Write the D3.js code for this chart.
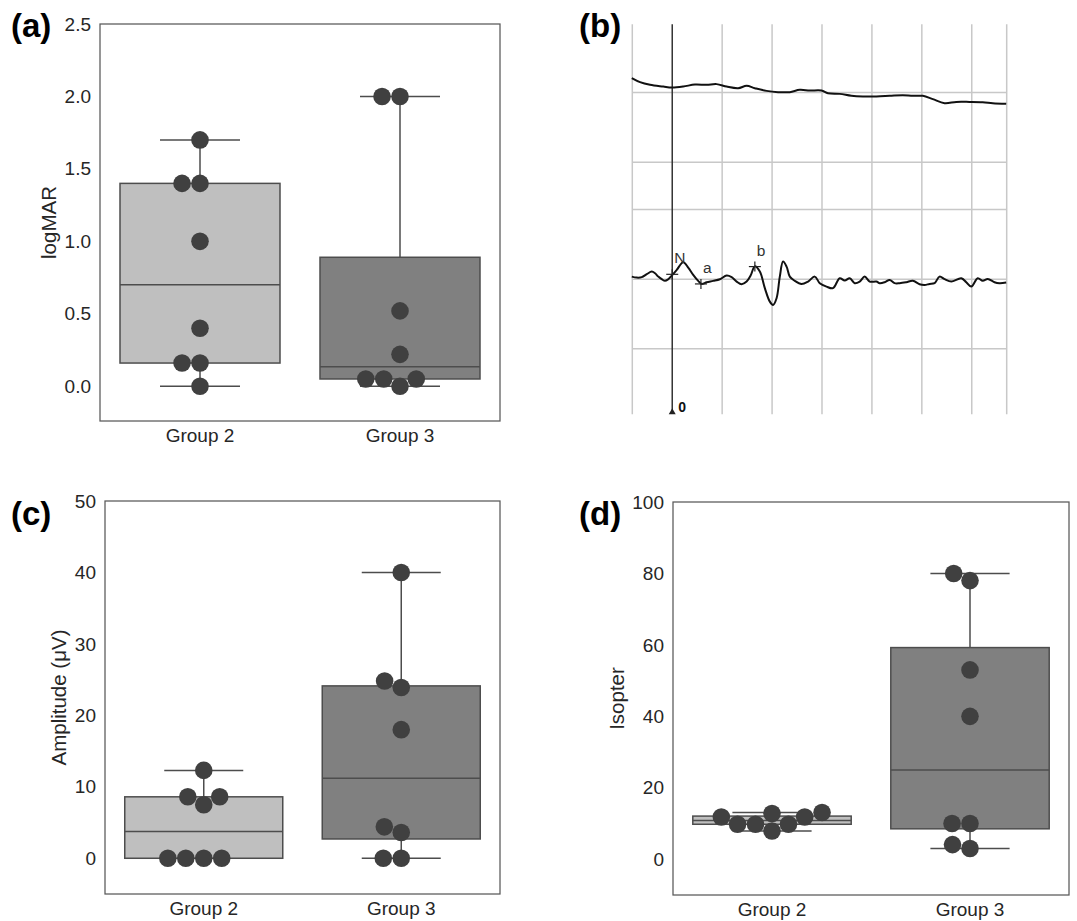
<!DOCTYPE html>
<html>
<head>
<meta charset="utf-8">
<title>Group 2 / Group 3</title>
<script src="https://cdn.jsdelivr.net/npm/d3@7"></script>
<style>
body { margin: 0; background: #fff; }
svg text { font-family: "Liberation Sans", Arial, sans-serif; }
</style>
</head>
<body>
<svg id="fig" width="1077" height="921"></svg>
<script>
// categories
var groups = ["Group 2", "Group 3"];

// (a) visual acuity
var logmarG2 = [1.7, 1.4, 1.4, 1.0, 0.4, 0.16, 0.16, 0.0];
var logmarG3 = [2.0, 2.0, 0.52, 0.22, 0.05, 0.05, 0.05, 0.0];
var logmarTicks = [0, 0.5, 1.0, 1.5, 2.0, 2.5];

// (c) ERG amplitude
var amplitudeG2 = [12.3, 8.6, 8.6, 7.5, 0, 0, 0, 0];
var amplitudeG3 = [40, 24.8, 23.9, 18, 4.4, 3.6, 0, 0];
var amplitudeTicks = [0, 10, 20, 30, 40, 50];

// (d) isopter
var isopterG2 = [13.1, 12.8, 11.85, 11.85, 9.8, 9.8, 9.8, 7.9];
var isopterG3 = [80, 78, 53, 40, 10, 10, 4.1, 3];
var isopterTicks = [0, 20, 40, 60, 80, 100];

// (b) ERG recording: [time ms, µV from channel zero line]
var ergTop = [[-16.2, 20.7], [-12.9, 14.9], [-8.9, 11.1], [-3.6, 8.6], [-0.2, 7.2], [4.4, 8.6],
  [9.1, 11.5], [13.8, 11.1], [17.8, 12.1], [21.8, 8.6], [26.4, 6.3], [29.8, 9.6], [33.1, 6.3],
  [37.8, 2.4], [42.4, 0.6], [47.1, 0.6], [51.1, 3.9], [55.1, 2.9], [59.8, 2.9], [62.4, -0.9],
  [67.1, -1.9], [71.8, -4.7], [76.4, -5.7], [81.8, -5.7], [87.1, -4.7], [92.4, -3.7], [96.4, -4.7],
  [100.4, -4.7], [104.4, -9.5], [109.1, -15.2], [113.8, -13.4], [119.1, -13.4], [124.4, -13.8],
  [128.4, -15.2], [133.8, -16.2]];
var ergBottom = [[-16.2, 3.7], [-14.2, 2.3], [-12.2, 2.9], [-10.2, 7.2], [-8.2, 10.9], [-6.9, 8.6],
  [-5.6, 3.7], [-4.2, 0], [-2.9, -2.4], [-1.6, 0], [-0.2, 5.2], [1.8, 13.4], [4.4, 24.4], [6.4, 16.7],
  [8.4, 6.2], [10.4, -2.4], [11.8, -6.8], [13.8, -4.3], [16.4, -2.4], [19.1, 0], [21.8, 5.2],
  [23.8, 2.9], [25.8, -3.4], [27.8, -7.2], [29.8, -3.4], [31.4, 5.2], [33.1, 18.4], [35.1, 10.9],
  [37.1, -12.9], [39.1, -32.2], [40.4, -36.9], [41.8, -27.3], [43.1, 3.7], [44.4, 25.3], [45.8, 18.1],
  [47.1, 3.7], [49.1, -2.4], [51.8, -6.8], [54.4, -3.4], [57.1, 3.7], [59.1, -5.7], [61.8, -10.6],
  [64.4, -12.9], [67.1, 1.4], [69.1, -2.0], [71.1, 1.4], [73.1, -5.7], [75.1, -3.4], [77.1, 3.7],
  [79.1, -3.4], [81.8, -3.4], [83.1, -5.7], [85.1, -4.3], [87.1, -1.0], [89.1, -5.7], [91.1, -5.7],
  [93.8, -4.3], [96.4, -2.4], [99.1, -7.2], [101.1, -8.2], [103.1, -6.8], [105.1, -5.7], [107.1, 3.7],
  [109.1, 0], [111.8, -3.4], [115.8, 1.4], [117.8, -4.3], [119.8, -10.6], [122.4, 1.4], [124.4, -2.4],
  [126.4, 0.4], [129.1, -4.3], [131.1, -5.7], [133.8, -4.9]];
var ergMarkers = [{label: "N", t: 0, v: 7}, {label: "a", t: 11.5, v: -6.8}, {label: "b", t: 33.1, v: 18.1}];
var channelZero = [268, 0];          // top and bottom channel zero lines
var ergGridTimes = [20, 40, 60, 80, 100, 120];
var ergGridAmps = [-100, 0, 100, 168, 268];

var boxFill = ["#bfbfbf", "#808080"];
var lineGray = "#4d4d4d";
var dotColor = "#404040";

var svg = d3.select("#fig");

function boxStats(values) {
	var s = values.slice().sort(d3.ascending);
	var q1 = d3.quantileSorted(s, 0.25), q3 = d3.quantileSorted(s, 0.75);
	var iqr = q3 - q1;
	return {
		q1: q1, q3: q3,
		med: d3.quantileSorted(s, 0.5),
		lo: d3.min(s.filter(function(v) { return v >= q1 - 1.5 * iqr; })),
		hi: d3.max(s.filter(function(v) { return v <= q3 + 1.5 * iqr; }))
	};
}

// seaborn-like beeswarm, pixel space (y measured upwards)
function swarm(pys, cx, r) {
	var pts = pys.map(function(py) { return {x: cx, y: -py}; })
		.sort(function(a, b) { return a.y - b.y; });
	var placed = [pts[0]];
	for (var i = 1; i < pts.length; i++) {
		var p = pts[i];
		var nb = [];
		for (var j = placed.length - 1; j >= 0; j--) {
			if (p.y - placed[j].y < 2 * r) nb.unshift(placed[j]);
			else break;
		}
		var cands = [p.x];
		var leftFirst = true;
		nb.forEach(function(q) {
			var dy = p.y - q.y;
			var dx = Math.sqrt(Math.max(4 * r * r - dy * dy, 0)) * 1.05;
			if (leftFirst) cands.push(q.x - dx, q.x + dx);
			else cands.push(q.x + dx, q.x - dx);
			leftFirst = !leftFirst;
		});
		cands = cands.map(function(x, k) { return {x: x, k: k}; })
			.sort(function(a, b) {
				var d = Math.abs(a.x - cx) - Math.abs(b.x - cx);
				return Math.abs(d) > 1e-6 ? d : a.k - b.k;
			});
		var nx = cands[0].x;
		for (var c = 0; c < cands.length; c++) {
			var ok = nb.every(function(q) {
				return Math.pow(q.x - cands[c].x, 2) + Math.pow(q.y - p.y, 2) >= 4 * r * r - 1e-6;
			});
			if (ok) { nx = cands[c].x; break; }
		}
		placed.push({x: nx, y: p.y});
	}
	return placed.map(function(d) { return {x: d.x, y: -d.y}; });
}

function drawBoxPanel(p) {
	var x = d3.scaleBand().domain(groups).range([p.left, p.right]);
	var y = d3.scaleLinear().domain(p.domain).range([p.bottom, p.top]);
	var g = svg.append("g");
	var bw = x.bandwidth() * 0.8;

	p.series.forEach(function(values, i) {
		var cx = x(groups[i]) + x.bandwidth() / 2;
		var st = boxStats(values);
		var lines = [
			[cx, y(st.q3), cx, y(st.hi)],
			[cx, y(st.q1), cx, y(st.lo)],
			[cx - bw / 4, y(st.hi), cx + bw / 4, y(st.hi)],
			[cx - bw / 4, y(st.lo), cx + bw / 4, y(st.lo)]
		];
		lines.forEach(function(l) {
			g.append("line")
				.attr("x1", l[0]).attr("y1", l[1]).attr("x2", l[2]).attr("y2", l[3])
				.attr("stroke", lineGray).attr("stroke-width", 1.5);
		});
		g.append("rect")
			.attr("x", cx - bw / 2)
			.attr("y", y(st.q3))
			.attr("width", bw)
			.attr("height", Math.max(y(st.q1) - y(st.q3), 0))
			.attr("fill", boxFill[i])
			.attr("stroke", lineGray)
			.attr("stroke-width", 1.5);
		g.append("line")
			.attr("x1", cx - bw / 2).attr("x2", cx + bw / 2)
			.attr("y1", y(st.med)).attr("y2", y(st.med))
			.attr("stroke", lineGray).attr("stroke-width", 1.5);
	});

	p.series.forEach(function(values, i) {
		var cx = x(groups[i]) + x.bandwidth() / 2;
		var pos = swarm(values.map(function(v) { return y(v); }), cx, 8.55);
		g.selectAll(null).data(pos).enter()
			.append("circle")
			.attr("cx", function(d) { return d.x; })
			.attr("cy", function(d) { return d.y; })
			.attr("r", 8.8)
			.attr("fill", dotColor);
	});

	g.append("rect")
		.attr("x", p.left).attr("y", p.top)
		.attr("width", p.right - p.left).attr("height", p.bottom - p.top)
		.attr("fill", "none").attr("stroke", "#595959").attr("stroke-width", 1.25);

	var yAxis = g.append("g")
		.attr("transform", "translate(" + p.left + ",0)")
		.call(d3.axisLeft(y).tickValues(p.ticks).tickFormat(d3.format(p.fmt)).tickSize(0).tickPadding(9));
	yAxis.select(".domain").remove();
	yAxis.selectAll("text").attr("font-size", 19).attr("fill", "#262626")
		.style("font-family", '"Liberation Sans", Arial, sans-serif');

	var xAxis = g.append("g")
		.attr("transform", "translate(0," + p.bottom + ")")
		.call(d3.axisBottom(x).tickSize(0).tickPadding(8));
	xAxis.select(".domain").remove();
	xAxis.selectAll("text").attr("font-size", 19).attr("fill", "#262626")
		.style("font-family", '"Liberation Sans", Arial, sans-serif');

	var bb = yAxis.node().getBBox();
	g.append("text")
		.attr("transform", "translate(" + (p.left + bb.x - 8.5) + "," + ((p.top + p.bottom) / 2) + ") rotate(-90)")
		.attr("text-anchor", "middle")
		.attr("font-size", 20.5)
		.attr("fill", "#262626")
		.text(p.ylabel);

	svg.append("text")
		.attr("x", p.tagX).attr("y", p.tagY)
		.attr("font-size", 33).attr("font-weight", "bold")
		.attr("fill", "#000")
		.text(p.tag);
}

drawBoxPanel({left: 100, right: 500, top: 24, bottom: 421, domain: [-0.24, 2.5],
	ticks: logmarTicks, fmt: ".1f", series: [logmarG2, logmarG3], ylabel: "logMAR",
	tag: "(a)", tagX: 11, tagY: 37});
drawBoxPanel({left: 105, right: 500, top: 501, bottom: 894, domain: [-5, 50],
	ticks: amplitudeTicks, fmt: "d", series: [amplitudeG2, amplitudeG3], ylabel: "Amplitude (\u03bcV)",
	tag: "(c)", tagX: 11, tagY: 525});
drawBoxPanel({left: 673, right: 1069, top: 502, bottom: 895, domain: [-10, 100],
	ticks: isopterTicks, fmt: "d", series: [isopterG2, isopterG3], ylabel: "Isopter",
	tag: "(d)", tagX: 579, tagY: 525});

// (b) ERG traces
(function() {
	var xB = d3.scaleLinear().domain([-16, 134]).range([632.3, 1006.7]);
	var yB = d3.scaleLinear().domain([-194, 366]).range([414.3, 24.3]);
	var g = svg.append("g");
	var gridColor = "#c8c8c8";

	xB.domain().concat(ergGridTimes).forEach(function(t) {
		g.append("line")
			.attr("x1", xB(t)).attr("x2", xB(t))
			.attr("y1", yB.range()[1]).attr("y2", yB.range()[0])
			.attr("stroke", gridColor).attr("stroke-width", 1.5);
	});
	ergGridAmps.forEach(function(v) {
		g.append("line")
			.attr("x1", xB.range()[0]).attr("x2", xB.range()[1])
			.attr("y1", yB(v)).attr("y2", yB(v))
			.attr("stroke", gridColor).attr("stroke-width", 1.5);
	});

	// stimulus line at t = 0
	g.append("line")
		.attr("x1", xB(0)).attr("x2", xB(0))
		.attr("y1", yB.range()[1]).attr("y2", yB.range()[0] - 3)
		.attr("stroke", "#333").attr("stroke-width", 1.5);
	g.append("path")
		.attr("d", "M" + (xB(0) - 3.5) + "," + (yB.range()[0]) + "L" + xB(0) + "," + (yB.range()[0] - 6) + "L" + (xB(0) + 3.5) + "," + yB.range()[0] + "Z")
		.attr("fill", "#222");
	g.append("text")
		.attr("x", xB(0) + 6).attr("y", yB.range()[0] - 2.5)
		.attr("font-size", 14).attr("font-weight", "bold").attr("fill", "#111")
		.text("0");

	[ergTop, ergBottom].forEach(function(trace, i) {
		var line = d3.line()
			.x(function(d) { return xB(d[0]); })
			.y(function(d) { return yB(channelZero[i] + d[1]); })
			.curve(d3.curveCatmullRom.alpha(0.5));
		g.append("path")
			.attr("d", line(trace))
			.attr("fill", "none")
			.attr("stroke", "#111")
			.attr("stroke-width", 2);
	});

	ergMarkers.forEach(function(m) {
		var mx = xB(m.t), my = yB(channelZero[1] + m.v);
		g.append("line").attr("x1", mx - 6).attr("x2", mx + 6).attr("y1", my).attr("y2", my)
			.attr("stroke", "#222").attr("stroke-width", 1.2);
		g.append("line").attr("x1", mx).attr("x2", mx).attr("y1", my - 5).attr("y2", my + 5)
			.attr("stroke", "#222").attr("stroke-width", 1.2);
		g.append("text")
			.attr("x", mx + 2).attr("y", my - 11)
			.attr("font-size", 15.5).attr("fill", "#333")
			.text(m.label);
	});

	svg.append("text")
		.attr("x", 579).attr("y", 37)
		.attr("font-size", 33).attr("font-weight", "bold")
		.text("(b)");
})();
</script>
</body>
</html>
